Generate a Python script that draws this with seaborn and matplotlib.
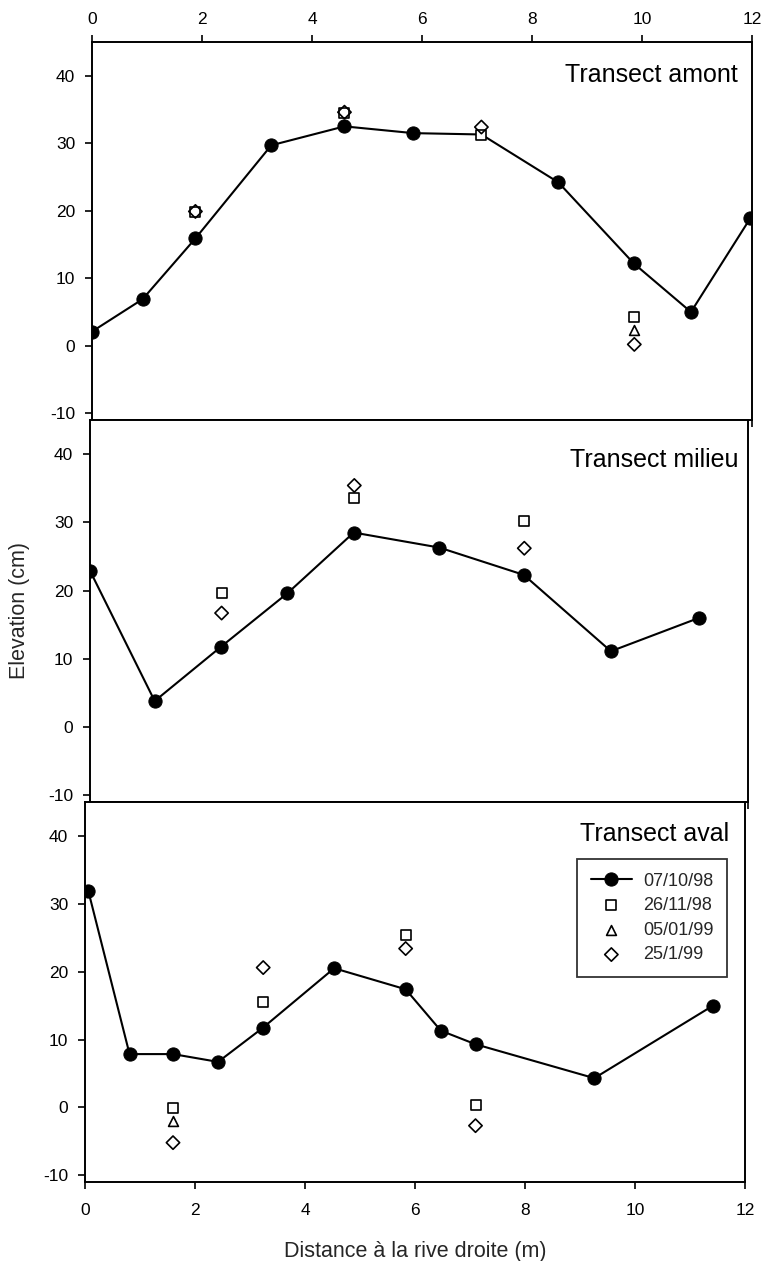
import matplotlib
matplotlib.use("Agg")
import matplotlib.pyplot as plt
import seaborn as sns
import pandas as pd
import numpy as np

sns.set_theme(style="white")
plt.rcParams['font.family'] = ['Liberation Sans', 'DejaVu Sans']
plt.rcParams['axes.unicode_minus'] = False

# ---------------- data ----------------
dates = ["07/10/98", "26/11/98", "05/01/99", "25/1/99"]

# Transect amont
amont_x = [0.0, 0.92, 1.88, 3.26, 4.59, 5.84, 7.08, 8.48, 9.85, 10.89, 11.97]
amont_y = [2.1, 6.9, 15.9, 29.7, 32.5, 31.5, 31.3, 24.2, 12.2, 5.0, 18.9]
amont_sq_x = [1.88, 4.59, 7.08, 9.86]
amont_sq_y = [19.8, 34.5, 31.2, 4.2]
amont_tr_x = [9.86]
amont_tr_y = [2.3]
amont_di_x = [1.88, 4.59, 7.08, 9.86]
amont_di_y = [19.9, 34.6, 32.4, 0.2]

# Transect milieu
milieu_x = [0.0, 1.18, 2.38, 3.60, 4.81, 6.37, 7.91, 9.50, 11.11]
milieu_y = [22.9, 3.8, 11.7, 19.6, 28.5, 26.3, 22.3, 11.1, 16.0]
milieu_sq_x = [2.40, 4.82, 7.92]
milieu_sq_y = [19.6, 33.5, 30.2]
milieu_tr_x = []
milieu_tr_y = []
milieu_di_x = [2.40, 4.82, 7.92]
milieu_di_y = [16.7, 35.4, 26.2]

# Transect aval
aval_x = [0.06, 0.81, 1.60, 2.42, 3.23, 4.53, 5.83, 6.47, 7.10, 9.26, 11.42]
aval_y = [31.9, 7.85, 7.85, 6.7, 11.7, 20.5, 17.4, 11.3, 9.3, 4.3, 15.0]
aval_sq_x = [1.60, 3.24, 5.83, 7.10]
aval_sq_y = [-0.1, 15.6, 25.4, 0.4]
aval_tr_x = [1.60]
aval_tr_y = [-2.0]
aval_di_x = [1.60, 3.24, 5.83, 7.10]
aval_di_y = [-5.2, 20.6, 23.4, -2.7]

titles = ["Transect amont", "Transect milieu", "Transect aval"]
x_ticks = [0, 2, 4, 6, 8, 10, 12]
y_ticks = [-10, 0, 10, 20, 30, 40]

panels = [
    (amont_x, amont_y, amont_sq_x, amont_sq_y, amont_tr_x, amont_tr_y, amont_di_x, amont_di_y),
    (milieu_x, milieu_y, milieu_sq_x, milieu_sq_y, milieu_tr_x, milieu_tr_y, milieu_di_x, milieu_di_y),
    (aval_x, aval_y, aval_sq_x, aval_sq_y, aval_tr_x, aval_tr_y, aval_di_x, aval_di_y),
]
# in the upper transect the 07/10/98 marker at 7.08 m is hidden under the square
hidden_marker = [[6], [], []]

# ---------------- figure ----------------
W, H = 768, 1261
fig = plt.figure(figsize=(W / 100, H / 100), dpi=100)
# pixel boxes (left, right, top, bottom) of the three panels
boxes = [(92, 752, 42, 420), (90, 748, 420, 802), (85, 745, 802, 1182)]
title_pos = [(738, 63), (738, 448), (729, 822)]
axes = []
for (l, r, t, b) in boxes:
    ax = fig.add_axes([l / W, 1 - b / H, (r - l) / W, (b - t) / H])
    axes.append(ax)

for i, (ax, p) in enumerate(zip(axes, panels)):
    lx, ly, sx, sy, tx, ty, dx, dy = p
    line_df = pd.DataFrame({"x": lx, "y": ly})
    mev = [k for k in range(len(lx)) if k not in hidden_marker[i]]
    sns.lineplot(data=line_df, x="x", y="y", ax=ax, color="black", lw=1.5,
                 marker="o", markersize=9.5, markerfacecolor="black",
                 markeredgecolor="black", sort=False, label=dates[0], zorder=2,
                 markevery=mev)
    if len(sx):
        sns.scatterplot(x=sx, y=sy, ax=ax, marker="s", s=48, facecolor="white",
                        edgecolor="black", linewidth=1.2, label=dates[1], zorder=3)
    else:
        ax.scatter([], [], marker="s", s=48, facecolor="white", edgecolor="black",
                   linewidth=1.2, label=dates[1])
    if len(tx):
        sns.scatterplot(x=tx, y=ty, ax=ax, marker="^", s=50, facecolor="white",
                        edgecolor="black", linewidth=1.2, label=dates[2], zorder=3)
    else:
        ax.scatter([], [], marker="^", s=50, facecolor="white", edgecolor="black",
                   linewidth=1.2, label=dates[2])
    sns.scatterplot(x=dx, y=dy, ax=ax, marker="D", s=46, facecolor="none",
                    edgecolor="black", linewidth=1.2, label=dates[3], zorder=4)

    ax.set_xlim(0, 12)
    ax.set_ylim(-11, 45)
    ax.set_xticks(x_ticks)
    ax.set_yticks(y_ticks)
    ax.set_xlabel("")
    ax.set_ylabel("")
    for s in ax.spines.values():
        s.set_color("black")
        s.set_linewidth(1.4)
    ax.tick_params(axis="y", direction="out", length=5, width=1.2, left=True,
                   labelsize=12.5, colors="black", pad=7)
    ax.tick_params(axis="x", direction="out", length=5, width=1.2, labelsize=12.5,
                   colors="black")
    if i == 0:
        ax.tick_params(axis="x", top=True, bottom=True, labeltop=True, labelbottom=False,
                       pad=6)
    elif i == 1:
        ax.tick_params(axis="x", top=False, bottom=True, labeltop=False, labelbottom=False)
    else:
        ax.tick_params(axis="x", top=False, bottom=True, labeltop=False, labelbottom=True,
                       pad=10)

    tx_, ty_ = title_pos[i]
    fig.text(tx_ / W, 1 - ty_ / H, titles[i], ha="right", va="top",
             fontsize=18, color="black")

    leg = ax.get_legend()
    if leg is not None:
        leg.remove()

# legend on bottom panel
h, l = axes[2].get_legend_handles_labels()
leg = axes[2].legend(h, l, loc="upper right", bbox_to_anchor=(727 / W, 1 - 859 / H),
                     bbox_transform=fig.transFigure, borderaxespad=0,
                     frameon=True, fancybox=False, edgecolor="black", fontsize=13,
                     handlelength=2.3, borderpad=0.75, labelspacing=0.42,
                     handletextpad=0.6)
leg.get_frame().set_linewidth(1.3)

fig.text(20 / W, 1 - 610 / H, "Elevation (cm)", rotation=90, ha="center", va="center",
         fontsize=15.5)
fig.text(415 / W, 1 - 1251 / H, "Distance à la rive droite (m)", ha="center",
         va="center", fontsize=15.5)

fig.savefig("out.png", dpi=100, facecolor="white")
